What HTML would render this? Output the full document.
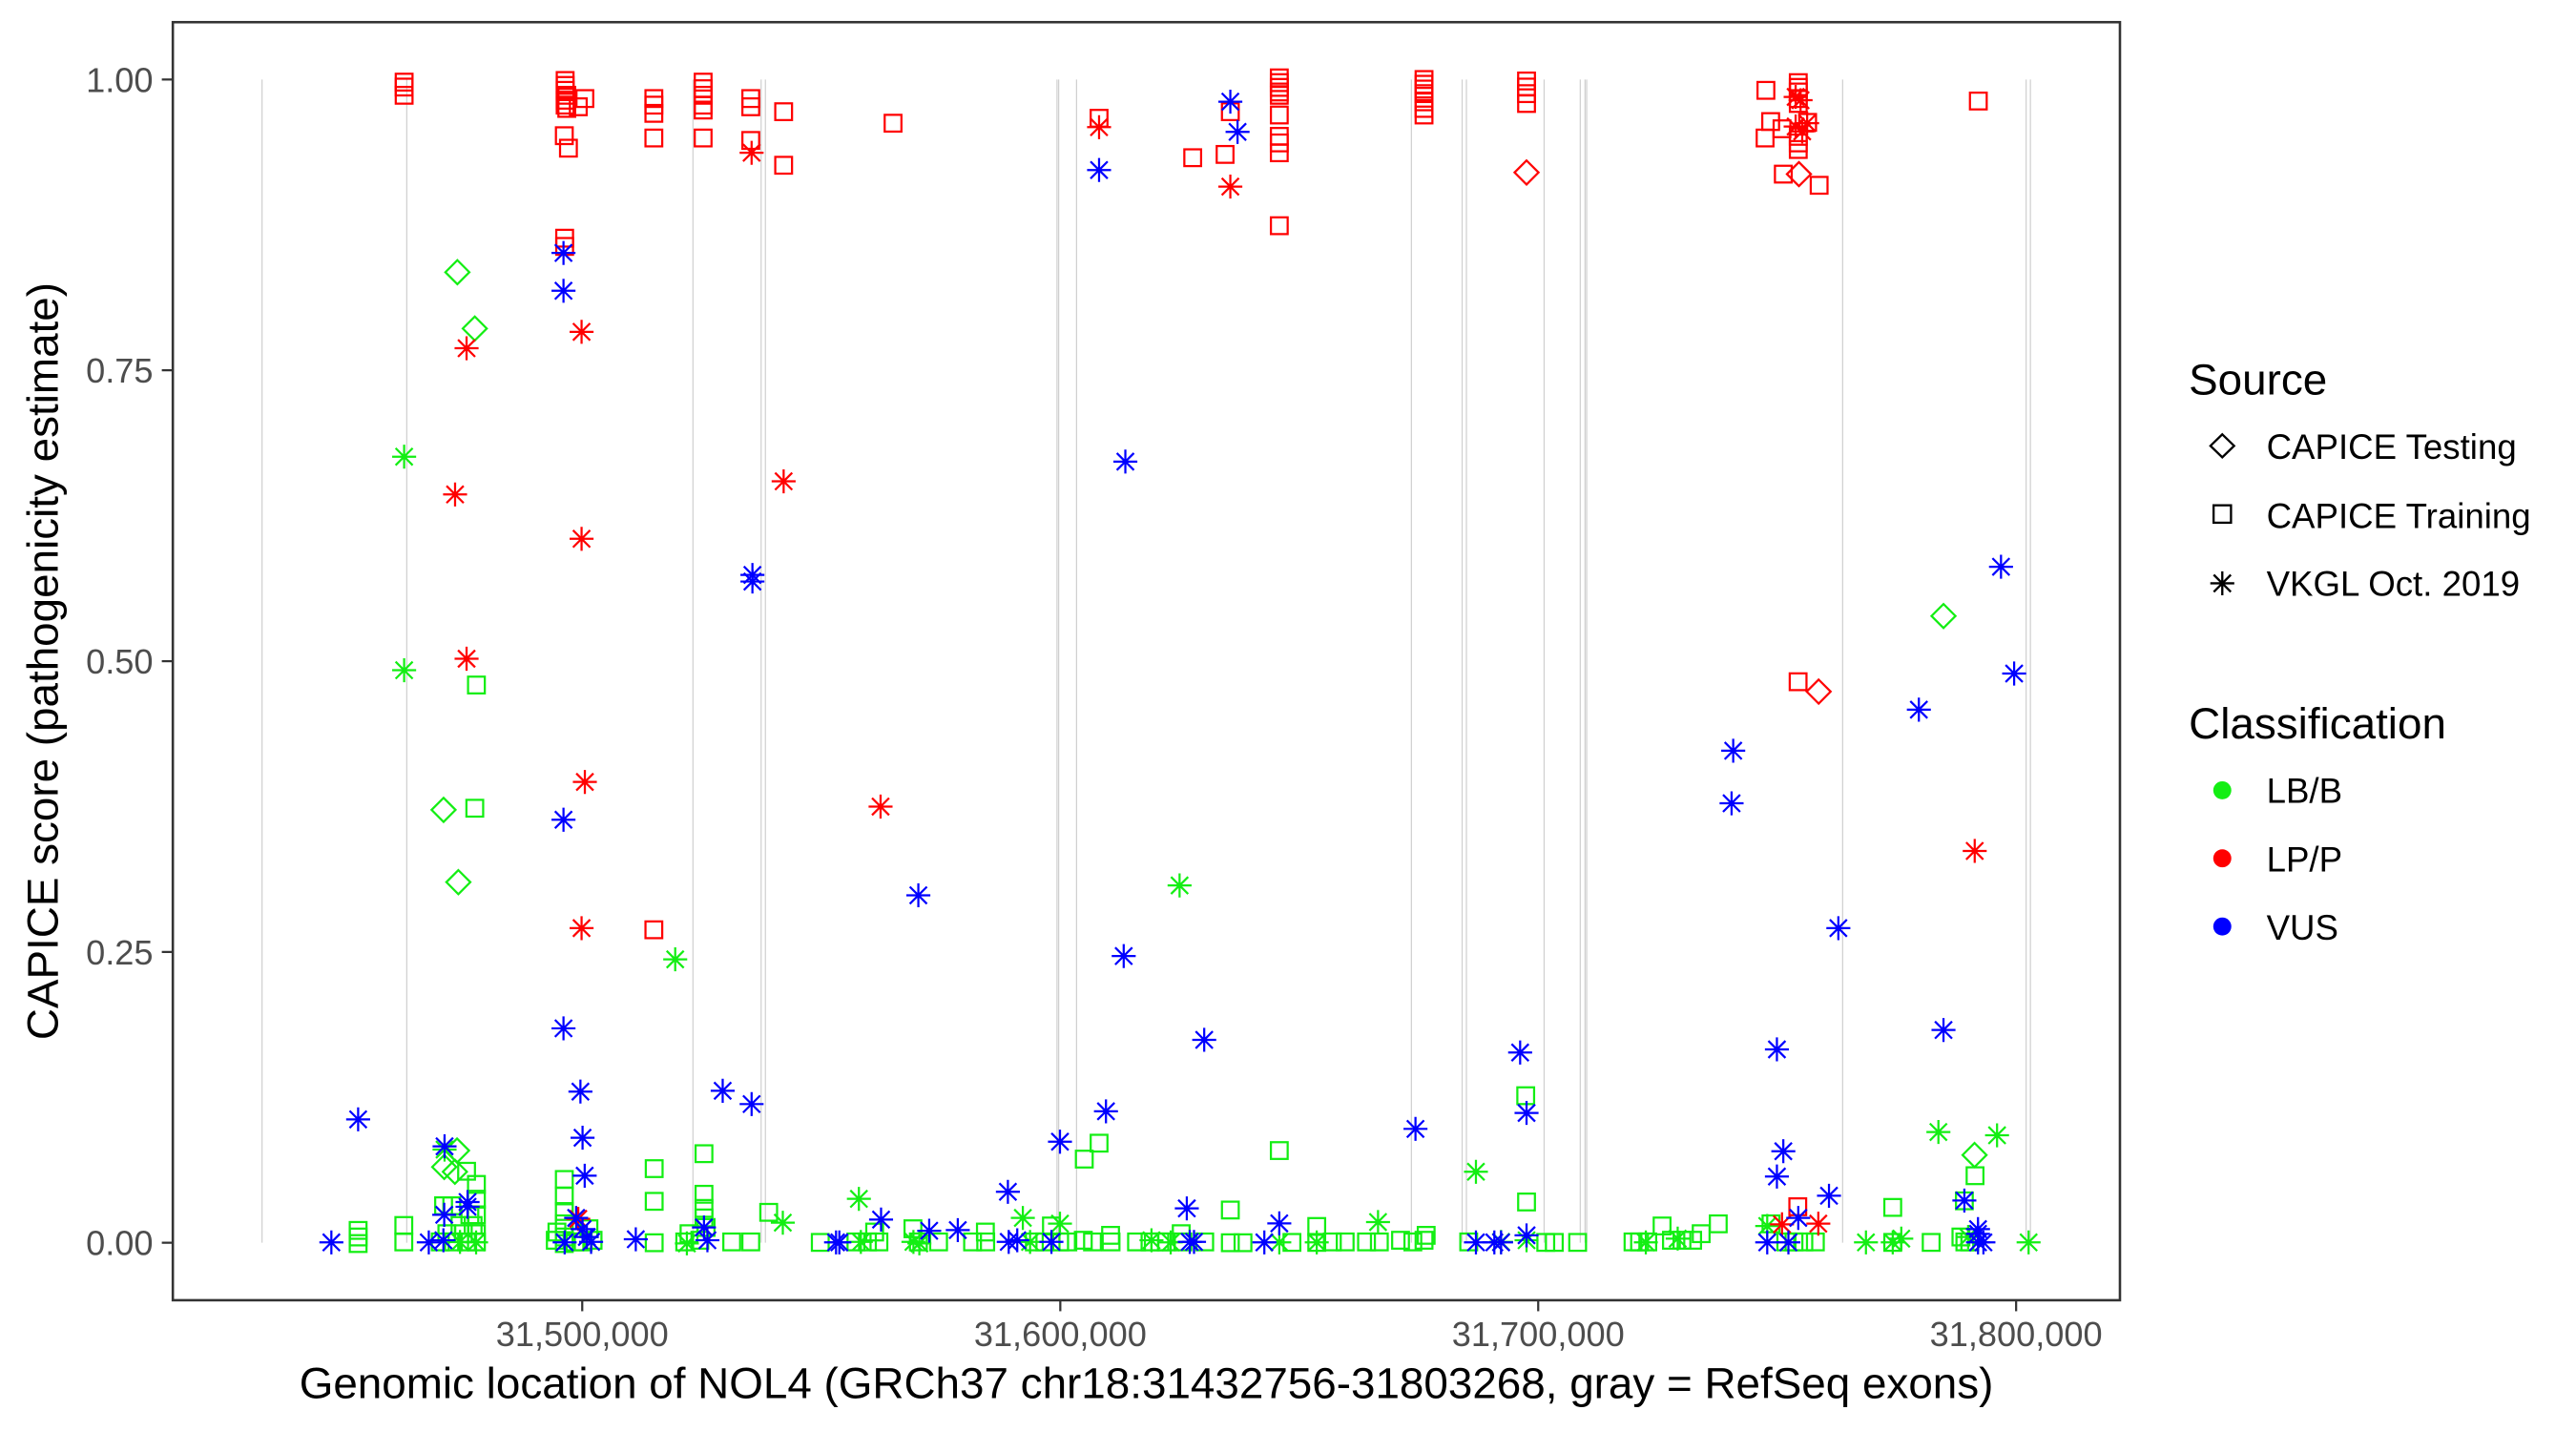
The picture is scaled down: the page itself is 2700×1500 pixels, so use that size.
<!DOCTYPE html>
<html>
<head>
<meta charset="utf-8">
<style>
html,body{margin:0;padding:0;background:#fff;}
svg{display:block;}
text{font-family:"Liberation Sans",Arial,sans-serif;}
</style>
</head>
<body>
<svg width="2700" height="1500" viewBox="0 0 1568 871.11" xmlns="http://www.w3.org/2000/svg">
<defs>
<path id="a" d="M0,-7.3V7.3M-7.3,0H7.3M-5.2,-5.2L5.2,5.2M-5.2,5.2L5.2,-5.2"/>
<rect id="s" x="-5.1" y="-5.1" width="10.2" height="10.2"/>
<path id="d" d="M0,-7.3L7.3,0L0,7.3L-7.3,0Z"/>
</defs>
<rect x="0" y="0" width="1568" height="871.11" fill="#fff"/>

<!-- exon lines -->
<g stroke="#cfcfcf" stroke-width="0.7">
<line x1="159.5" y1="48.4" x2="159.5" y2="756.5"/>
<line x1="247.6" y1="48.4" x2="247.6" y2="756.5"/>
<line x1="421.8" y1="48.4" x2="421.8" y2="756.5"/>
<line x1="463.3" y1="48.4" x2="463.3" y2="756.5"/>
<line x1="465.9" y1="48.4" x2="465.9" y2="756.5"/>
<line x1="643.4" y1="48.4" x2="643.4" y2="756.5"/>
<line x1="644.4" y1="48.4" x2="644.4" y2="756.5"/>
<line x1="655.3" y1="48.4" x2="655.3" y2="756.5"/>
<line x1="859.1" y1="48.4" x2="859.1" y2="756.5"/>
<line x1="890.0" y1="48.4" x2="890.0" y2="756.5"/>
<line x1="892.6" y1="48.4" x2="892.6" y2="756.5"/>
<line x1="939.9" y1="48.4" x2="939.9" y2="756.5"/>
<line x1="961.9" y1="48.4" x2="961.9" y2="756.5"/>
<line x1="964.8" y1="48.4" x2="964.8" y2="756.5"/>
<line x1="965.8" y1="48.4" x2="965.8" y2="756.5"/>
<line x1="1121.6" y1="48.4" x2="1121.6" y2="756.5"/>
<line x1="1233.3" y1="48.4" x2="1233.3" y2="756.5"/>
<line x1="1235.9" y1="48.4" x2="1235.9" y2="756.5"/>
</g>

<!-- GREEN -->
<g fill="none" stroke="#13ee13" stroke-width="1.3">
<use href="#s" x="290" y="417"/><use href="#s" x="289" y="492"/>
<use href="#s" x="218" y="749"/><use href="#s" x="218" y="753"/><use href="#s" x="218" y="757"/>
<use href="#s" x="245.8" y="746"/><use href="#s" x="245.8" y="756"/>
<use href="#s" x="284" y="713"/><use href="#s" x="290" y="721"/><use href="#s" x="290" y="730"/>
<use href="#s" x="270" y="734"/><use href="#s" x="275" y="734"/><use href="#s" x="286" y="739.5"/><use href="#s" x="290" y="739.5"/>
<use href="#s" x="280" y="746"/><use href="#s" x="288" y="746"/><use href="#s" x="272" y="751"/><use href="#s" x="282" y="751"/><use href="#s" x="290" y="751"/>
<use href="#s" x="268" y="756"/><use href="#s" x="276" y="756"/><use href="#s" x="284" y="756"/><use href="#s" x="290" y="756"/>
<use href="#s" x="343.5" y="718"/><use href="#s" x="343.5" y="728"/><use href="#s" x="343.5" y="737.5"/><use href="#s" x="343.5" y="745"/>
<use href="#s" x="343.5" y="753"/><use href="#s" x="343.5" y="757"/><use href="#s" x="338" y="755"/><use href="#s" x="339" y="750"/>
<use href="#s" x="358.5" y="748"/><use href="#s" x="361" y="755"/><use href="#s" x="350" y="756"/><use href="#s" x="355" y="756"/>
<use href="#s" x="398.2" y="711.4"/><use href="#s" x="398.2" y="731.3"/><use href="#s" x="398.2" y="756.5"/>
<use href="#s" x="428.5" y="702.3"/><use href="#s" x="428.5" y="727"/><use href="#s" x="428.5" y="735.6"/><use href="#s" x="428.5" y="741.4"/>
<use href="#s" x="429.8" y="747.2"/><use href="#s" x="419.4" y="751"/><use href="#s" x="416.8" y="756"/><use href="#s" x="426" y="755"/>
<use href="#s" x="445.4" y="756"/><use href="#s" x="457" y="756"/><use href="#s" x="467.9" y="738"/><use href="#s" x="499.3" y="756.3"/>
<use href="#s" x="521" y="756"/><use href="#s" x="528" y="756"/><use href="#s" x="535" y="756"/><use href="#s" x="532.4" y="750"/>
<use href="#s" x="555.7" y="748"/><use href="#s" x="559" y="756"/><use href="#s" x="571.3" y="756"/><use href="#s" x="592" y="756"/>
<use href="#s" x="599.8" y="750"/><use href="#s" x="600" y="756"/><use href="#s" x="629.6" y="756"/><use href="#s" x="636" y="756"/>
<use href="#s" x="640" y="746.3"/><use href="#s" x="645" y="756"/><use href="#s" x="650" y="756"/><use href="#s" x="659.4" y="755"/>
<use href="#s" x="660" y="705.6"/><use href="#s" x="669" y="695.9"/><use href="#s" x="665" y="756"/><use href="#s" x="676.3" y="756"/>
<use href="#s" x="676" y="752"/><use href="#s" x="691.8" y="756"/><use href="#s" x="700" y="756"/><use href="#s" x="706" y="756"/>
<use href="#s" x="710" y="756"/><use href="#s" x="719" y="751"/><use href="#s" x="720" y="756"/><use href="#s" x="733.3" y="756"/>
<use href="#s" x="748.9" y="736.6"/><use href="#s" x="748.9" y="756.5"/><use href="#s" x="756.6" y="756.5"/><use href="#s" x="778.7" y="700.4"/>
<use href="#s" x="786.4" y="756.3"/><use href="#s" x="801.5" y="746.6"/><use href="#s" x="801.5" y="756.3"/><use href="#s" x="811" y="756"/>
<use href="#s" x="818.8" y="756"/><use href="#s" x="831.8" y="756"/><use href="#s" x="839.6" y="756"/><use href="#s" x="852.5" y="755"/>
<use href="#s" x="860" y="756"/><use href="#s" x="866.8" y="755"/><use href="#s" x="868.1" y="752"/><use href="#s" x="894" y="756"/>
<use href="#s" x="928.7" y="667"/><use href="#s" x="929.2" y="731.7"/><use href="#s" x="940.9" y="756.3"/><use href="#s" x="946.1" y="756.3"/>
<use href="#s" x="960.3" y="756.3"/><use href="#s" x="994" y="756"/><use href="#s" x="998" y="756"/><use href="#s" x="1003" y="756"/>
<use href="#s" x="1011.7" y="746.3"/><use href="#s" x="1017.4" y="755"/><use href="#s" x="1023.8" y="755"/><use href="#s" x="1030.3" y="755"/>
<use href="#s" x="1035.5" y="751"/><use href="#s" x="1045.9" y="745"/><use href="#s" x="1078" y="745"/><use href="#s" x="1087" y="756"/>
<use href="#s" x="1092" y="756"/><use href="#s" x="1098" y="756"/><use href="#s" x="1105" y="756"/><use href="#s" x="1152.1" y="735"/>
<use href="#s" x="1152.1" y="756.3"/><use href="#s" x="1175.5" y="756.3"/><use href="#s" x="1193.6" y="753"/><use href="#s" x="1196" y="756"/>
<use href="#s" x="1199" y="756"/><use href="#s" x="1202.2" y="715.7"/><use href="#s" x="1195.7" y="731"/>

<use href="#d" x="278.4" y="165.7"/><use href="#d" x="289" y="200"/><use href="#d" x="270" y="493"/><use href="#d" x="279" y="537"/>
<use href="#d" x="278.2" y="700.4"/><use href="#d" x="270.4" y="710.4"/><use href="#d" x="276.9" y="713.3"/><use href="#d" x="1183" y="375"/><use href="#d" x="1201.9" y="703.1"/>

<use href="#a" x="246" y="278"/><use href="#a" x="246" y="408"/><use href="#a" x="411" y="584"/><use href="#a" x="718" y="539"/>
<use href="#a" x="898.4" y="713.3"/><use href="#a" x="270.6" y="699.8"/><use href="#a" x="289.8" y="756.3"/><use href="#a" x="280" y="756"/>
<use href="#a" x="418.1" y="756.9"/><use href="#a" x="476.5" y="744.3"/><use href="#a" x="522.8" y="729.8"/><use href="#a" x="524" y="756"/>
<use href="#a" x="559.6" y="756.9"/><use href="#a" x="556" y="756"/><use href="#a" x="622.6" y="741.4"/><use href="#a" x="627" y="756"/>
<use href="#a" x="645.2" y="744.9"/><use href="#a" x="700.9" y="755"/><use href="#a" x="712.6" y="756.3"/><use href="#a" x="778.7" y="756.3"/>
<use href="#a" x="801.5" y="756.3"/><use href="#a" x="838.8" y="743.9"/><use href="#a" x="929.2" y="755"/><use href="#a" x="913.7" y="756"/>
<use href="#a" x="1001.8" y="756.3"/><use href="#a" x="1021.2" y="754"/><use href="#a" x="1075.7" y="746.3"/><use href="#a" x="1135.8" y="756.3"/>
<use href="#a" x="1152.1" y="756.3"/><use href="#a" x="1157.3" y="754"/><use href="#a" x="1179.9" y="689.1"/><use href="#a" x="1215.6" y="691.1"/>
<use href="#a" x="1234.8" y="756.3"/><use href="#a" x="1198" y="753"/>
</g>

<!-- RED -->
<g fill="none" stroke="#ff0000" stroke-width="1.3">
<use href="#s" x="246" y="50"/><use href="#s" x="246" y="53"/><use href="#s" x="246" y="58"/>
<use href="#s" x="344" y="49"/><use href="#s" x="344" y="52"/><use href="#s" x="344" y="55"/><use href="#s" x="345" y="58"/>
<use href="#s" x="344" y="61"/><use href="#s" x="344" y="64"/><use href="#s" x="345" y="66"/><use href="#s" x="356" y="60"/>
<use href="#s" x="352" y="65"/><use href="#s" x="343.5" y="82.6"/><use href="#s" x="346" y="90.2"/><use href="#s" x="343.7" y="145"/><use href="#s" x="343.7" y="150"/>
<use href="#s" x="398" y="60"/><use href="#s" x="398" y="64"/><use href="#s" x="398" y="69"/><use href="#s" x="398" y="84"/>
<use href="#s" x="428" y="50"/><use href="#s" x="428" y="54"/><use href="#s" x="428" y="58"/><use href="#s" x="428" y="64"/><use href="#s" x="428" y="67"/><use href="#s" x="428" y="84"/>
<use href="#s" x="457" y="60"/><use href="#s" x="457" y="65"/><use href="#s" x="457" y="85.5"/>
<use href="#s" x="477" y="68"/><use href="#s" x="477" y="100.6"/><use href="#s" x="543.6" y="75"/><use href="#s" x="669" y="72"/>
<use href="#s" x="726" y="96"/><use href="#s" x="745.7" y="94"/><use href="#s" x="748.9" y="68"/>
<use href="#s" x="778.7" y="47.4"/><use href="#s" x="778.7" y="50.3"/><use href="#s" x="778.7" y="53.2"/><use href="#s" x="778.7" y="56"/>
<use href="#s" x="778.7" y="58"/><use href="#s" x="778.7" y="70"/><use href="#s" x="778.7" y="83"/><use href="#s" x="778.7" y="87"/>
<use href="#s" x="778.7" y="93"/><use href="#s" x="778.7" y="137.4"/>
<use href="#s" x="866.8" y="48.4"/><use href="#s" x="866.8" y="51.3"/><use href="#s" x="866.8" y="54.2"/><use href="#s" x="866.8" y="57"/>
<use href="#s" x="866.8" y="62"/><use href="#s" x="866.8" y="66"/><use href="#s" x="866.8" y="70"/>
<use href="#s" x="929.2" y="49.3"/><use href="#s" x="929.2" y="53"/><use href="#s" x="929.2" y="57"/><use href="#s" x="929.2" y="63"/>
<use href="#s" x="1074.9" y="55"/><use href="#s" x="1077.8" y="74"/><use href="#s" x="1074.4" y="84"/><use href="#s" x="1084.7" y="78.4"/>
<use href="#s" x="1094.6" y="50.3"/><use href="#s" x="1094.6" y="53.2"/><use href="#s" x="1094.6" y="56"/><use href="#s" x="1094.6" y="60"/>
<use href="#s" x="1094.6" y="63"/><use href="#s" x="1094.6" y="83"/><use href="#s" x="1094.6" y="87"/><use href="#s" x="1094.6" y="91"/>
<use href="#s" x="1100.3" y="74.5"/><use href="#s" x="1085.5" y="106"/><use href="#s" x="1107.3" y="112.8"/><use href="#s" x="1204.2" y="61.5"/>
<use href="#s" x="398" y="566"/><use href="#s" x="1094.3" y="734.6"/><use href="#s" x="1094.5" y="415"/>

<use href="#d" x="929.2" y="105"/><use href="#d" x="1095" y="106"/><use href="#d" x="1107" y="421"/>

<use href="#a" x="457.5" y="93"/><use href="#a" x="669" y="77.4"/><use href="#a" x="748.9" y="113.6"/>
<use href="#a" x="1093" y="59"/><use href="#a" x="1096" y="61"/><use href="#a" x="1093" y="77"/><use href="#a" x="1100" y="75"/><use href="#a" x="1097" y="80"/>
<use href="#a" x="284" y="212"/><use href="#a" x="277" y="301"/><use href="#a" x="284" y="401"/>
<use href="#a" x="354" y="202"/><use href="#a" x="354" y="328"/><use href="#a" x="356" y="476"/><use href="#a" x="354" y="565"/>
<use href="#a" x="477" y="293"/><use href="#a" x="536" y="491"/><use href="#a" x="1202" y="518"/>
<use href="#a" x="352" y="742"/><use href="#a" x="1084.7" y="745.3"/><use href="#a" x="1106.8" y="744.9"/>
</g>

<!-- BLUE -->
<g fill="none" stroke="#0000ff" stroke-width="1.3">
<use href="#a" x="218" y="681.4"/><use href="#a" x="201.7" y="756.3"/><use href="#a" x="261" y="756.3"/><use href="#a" x="269.9" y="755"/>
<use href="#a" x="270.4" y="739.5"/><use href="#a" x="270.6" y="697.8"/><use href="#a" x="284.6" y="731.7"/><use href="#a" x="284.6" y="734.6"/>
<use href="#a" x="343" y="154"/><use href="#a" x="343" y="177"/><use href="#a" x="343" y="499"/><use href="#a" x="343" y="626"/>
<use href="#a" x="353.3" y="664.5"/><use href="#a" x="354.6" y="692.6"/><use href="#a" x="355.9" y="715.7"/><use href="#a" x="350.7" y="741.4"/>
<use href="#a" x="354.6" y="748.2"/><use href="#a" x="343.7" y="756.3"/><use href="#a" x="359.8" y="756"/><use href="#a" x="357.2" y="753"/>
<use href="#a" x="387" y="754.4"/><use href="#a" x="428.5" y="747.2"/><use href="#a" x="430.6" y="755"/><use href="#a" x="439.9" y="664"/>
<use href="#a" x="457.5" y="672.1"/><use href="#a" x="458" y="350"/><use href="#a" x="458" y="354"/><use href="#a" x="508.9" y="756.3"/>
<use href="#a" x="510.9" y="756.3"/><use href="#a" x="536.3" y="742.4"/><use href="#a" x="559" y="545"/><use href="#a" x="565.6" y="749.2"/>
<use href="#a" x="583" y="748.8"/><use href="#a" x="613.5" y="725.5"/><use href="#a" x="614" y="756"/><use href="#a" x="619.2" y="755"/>
<use href="#a" x="640" y="756"/><use href="#a" x="645.2" y="695"/><use href="#a" x="673.2" y="676.5"/><use href="#a" x="669" y="103.5"/>
<use href="#a" x="685" y="281"/><use href="#a" x="684" y="582"/><use href="#a" x="733" y="633"/><use href="#a" x="722.4" y="735.6"/>
<use href="#a" x="724.2" y="756"/><use href="#a" x="726.8" y="756"/><use href="#a" x="748.9" y="61.9"/><use href="#a" x="753.3" y="80.3"/>
<use href="#a" x="769.6" y="756.3"/><use href="#a" x="778.7" y="744.7"/><use href="#a" x="861.6" y="687.2"/><use href="#a" x="898.4" y="756.3"/>
<use href="#a" x="909.6" y="756.3"/><use href="#a" x="925.3" y="640.7"/><use href="#a" x="929.2" y="677.5"/><use href="#a" x="929.2" y="752"/>
<use href="#a" x="913.7" y="756.3"/><use href="#a" x="1055" y="457"/><use href="#a" x="1054" y="489"/><use href="#a" x="1081.6" y="638.8"/>
<use href="#a" x="1085.5" y="700.8"/><use href="#a" x="1081.6" y="716.2"/><use href="#a" x="1094.6" y="741.4"/><use href="#a" x="1075.7" y="756.3"/>
<use href="#a" x="1088.6" y="756.3"/><use href="#a" x="1113.3" y="727.9"/><use href="#a" x="1119" y="565"/><use href="#a" x="1168" y="432"/>
<use href="#a" x="1183" y="627"/><use href="#a" x="1218" y="345"/><use href="#a" x="1226" y="410"/><use href="#a" x="1195.7" y="730.8"/>
<use href="#a" x="1204" y="748.2"/><use href="#a" x="1204" y="751.1"/><use href="#a" x="1204" y="756.3"/><use href="#a" x="1207.3" y="756.3"/>
</g>

<!-- panel border -->
<rect x="105.2" y="13.5" width="1185.2" height="778" fill="none" stroke="#333333" stroke-width="1.5"/>

<!-- y ticks -->
<g stroke="#333333" stroke-width="1.3">
<line x1="98.5" y1="48.4" x2="105.2" y2="48.4"/>
<line x1="98.5" y1="225.4" x2="105.2" y2="225.4"/>
<line x1="98.5" y1="402.5" x2="105.2" y2="402.5"/>
<line x1="98.5" y1="579.5" x2="105.2" y2="579.5"/>
<line x1="98.5" y1="756.5" x2="105.2" y2="756.5"/>
<line x1="354.4" y1="791.5" x2="354.4" y2="798.2"/>
<line x1="645.4" y1="791.5" x2="645.4" y2="798.2"/>
<line x1="936.3" y1="791.5" x2="936.3" y2="798.2"/>
<line x1="1227.2" y1="791.5" x2="1227.2" y2="798.2"/>
</g>
<g fill="#4d4d4d" font-size="21" text-anchor="end">
<text x="93.2" y="56">1.00</text>
<text x="93.2" y="233">0.75</text>
<text x="93.2" y="410">0.50</text>
<text x="93.2" y="587">0.25</text>
<text x="93.2" y="764">0.00</text>
</g>
<g fill="#4d4d4d" font-size="21" text-anchor="middle">
<text x="354.4" y="819.5">31,500,000</text>
<text x="645.4" y="819.5">31,600,000</text>
<text x="936.3" y="819.5">31,700,000</text>
<text x="1227.2" y="819.5">31,800,000</text>
</g>

<!-- axis titles -->
<text x="697.8" y="851" font-size="26.6" text-anchor="middle" fill="#000">Genomic location of NOL4 (GRCh37 chr18:31432756-31803268, gray = RefSeq exons)</text>
<text transform="translate(35,402.5) rotate(-90)" font-size="26.6" text-anchor="middle" fill="#000">CAPICE score (pathogenicity estimate)</text>

<!-- legend -->
<text x="1332.3" y="240" font-size="26.6" fill="#000">Source</text>
<g fill="none" stroke="#000" stroke-width="1.35">
<path d="M1352.7,264.4L1359.9,271.4L1352.7,278.4L1345.5,271.4Z"/>
<rect x="1347.4" y="307.6" width="10.6" height="10.6"/>
<path d="M1352.7,347.8V362.4M1345.4,355.1H1360M1347.5,349.9L1357.9,360.3M1347.5,360.3L1357.9,349.9"/>
</g>
<g font-size="21.3" fill="#000">
<text x="1379.6" y="279.2">CAPICE Testing</text>
<text x="1379.6" y="321.3">CAPICE Training</text>
<text x="1379.6" y="362.8">VKGL Oct. 2019</text>
</g>
<text x="1332.3" y="449.5" font-size="26.6" fill="#000">Classification</text>
<circle cx="1352.7" cy="481.1" r="5.5" fill="#13ee13"/>
<circle cx="1352.7" cy="522.5" r="5.5" fill="#ff0000"/>
<circle cx="1352.7" cy="564" r="5.5" fill="#0000ff"/>
<g font-size="21.3" fill="#000">
<text x="1379.6" y="488.8">LB/B</text>
<text x="1379.6" y="530.5">LP/P</text>
<text x="1379.6" y="572">VUS</text>
</g>
</svg>
</body>
</html>
